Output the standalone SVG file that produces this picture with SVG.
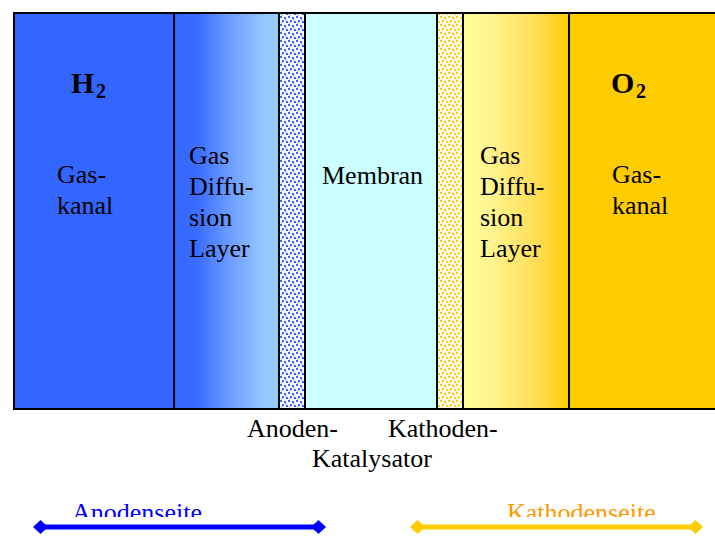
<svg xmlns="http://www.w3.org/2000/svg" width="715" height="536" viewBox="0 0 715 536">
<style>
.t{font-family:"Liberation Serif","Times New Roman","DejaVu Serif",serif;font-size:26px;fill:#000}
.b{font-weight:bold;font-size:30px}
.s{font-weight:bold;font-size:20px}
.ln{stroke:#000;stroke-width:2}
</style>
<defs>
<linearGradient id="gA" x1="0" y1="0" x2="1" y2="0">
<stop offset="0" stop-color="#3366ff"/>
<stop offset="0.22" stop-color="#3a6cff"/>
<stop offset="0.55" stop-color="#6f9fff"/>
<stop offset="0.85" stop-color="#95c6ff"/>
<stop offset="1" stop-color="#99ccff"/>
</linearGradient>
<linearGradient id="gK" x1="0" y1="0" x2="1" y2="0">
<stop offset="0" stop-color="#ffff99"/>
<stop offset="0.25" stop-color="#fff590"/>
<stop offset="0.7" stop-color="#ffdd55"/>
<stop offset="1" stop-color="#ffcc00"/>
</linearGradient>
<pattern id="pA" width="8" height="8" patternUnits="userSpaceOnUse">
<rect width="8" height="8" fill="#fff"/>
<g fill="#3366ff">
<rect x="0" y="0" width="2" height="2"/><rect x="4" y="1" width="2" height="2"/>
<rect x="2" y="4" width="2" height="2"/><rect x="6" y="5" width="2" height="2"/>
<rect x="1" y="6" width="1.5" height="1.5" fill="#7fa0ff"/><rect x="5" y="3" width="1.5" height="1.5" fill="#7fa0ff"/>
</g>
</pattern>
<pattern id="pK" width="8" height="8" patternUnits="userSpaceOnUse">
<rect width="8" height="8" fill="#fff"/>
<g fill="#ffcc00">
<rect x="0" y="0" width="2" height="2"/><rect x="4" y="1" width="2" height="2"/>
<rect x="2" y="4" width="2" height="2"/><rect x="6" y="5" width="2" height="2"/>
<rect x="1" y="6" width="1.5" height="1.5" fill="#ffdd55"/><rect x="5" y="3" width="1.5" height="1.5" fill="#ffdd55"/>
</g>
</pattern>
<clipPath id="clipTxt"><rect x="0" y="490" width="715" height="27"/></clipPath>
</defs>

<g id="anode-gaskanal">
<rect x="14" y="13" width="160" height="396" fill="#3366ff" class="ln"/>
<text class="t b" x="71" y="93">H</text><text class="t s" x="96" y="98">2</text>
<text class="t" x="57" y="183">Gas-</text>
<text class="t" x="57" y="214">kanal</text>
</g>
<g id="anode-gdl">
<rect x="174" y="13" width="105" height="396" fill="url(#gA)" class="ln"/>
<text class="t" x="189" y="164">Gas</text>
<text class="t" x="189" y="195">Diffu-</text>
<text class="t" x="189" y="226">sion</text>
<text class="t" x="189" y="257">Layer</text>
</g>
<g id="anode-kat">
<rect x="279" y="13" width="26" height="396" fill="url(#pA)" class="ln"/>
</g>
<g id="membran">
<rect x="305" y="13" width="132" height="396" fill="#ccffff" class="ln"/>
<text class="t" x="322" y="184">Membran</text>
</g>
<g id="kathode-kat">
<rect x="437" y="13" width="26" height="396" fill="url(#pK)" class="ln"/>
</g>
<g id="kathode-gdl">
<rect x="463" y="13" width="106" height="396" fill="url(#gK)" class="ln"/>
<text class="t" x="480" y="164">Gas</text>
<text class="t" x="480" y="195">Diffu-</text>
<text class="t" x="480" y="226">sion</text>
<text class="t" x="480" y="257">Layer</text>
</g>
<g id="kathode-gaskanal">
<rect x="569" y="13" width="160" height="396" fill="#ffcc00" class="ln"/>
<text class="t b" x="611" y="93">O</text><text class="t s" x="636" y="98">2</text>
<text class="t" x="612" y="183">Gas-</text>
<text class="t" x="612" y="214">kanal</text>
</g>
<g id="katalysator-label">
<text class="t" x="247" y="437">Anoden-</text>
<text class="t" x="388" y="437">Kathoden-</text>
<text class="t" x="312" y="467">Katalysator</text>
</g>

<g id="connectors">
<g id="anodenseite">
<line x1="38" y1="527" x2="321" y2="527" stroke="#0000ff" stroke-width="5"/>
<polygon points="33,527 40.5,520 48,527 40.5,534" fill="#0000ff"/>
<polygon points="311,527 318.5,520 326,527 318.5,534" fill="#0000ff"/>
<text class="t" x="72" y="521" style="fill:#0000ff" clip-path="url(#clipTxt)">Anodenseite</text>
</g>
<g id="kathodenseite">
<line x1="415" y1="527" x2="698" y2="527" stroke="#ffcc00" stroke-width="5"/>
<polygon points="410,527 417.5,520 425,527 417.5,534" fill="#ffcc00"/>
<polygon points="688,527 695.5,520 703,527 695.5,534" fill="#ffcc00"/>
<text class="t" x="507" y="521" style="fill:#ff9900" clip-path="url(#clipTxt)">Kathodenseite</text>
</g>
</g>
</svg>
